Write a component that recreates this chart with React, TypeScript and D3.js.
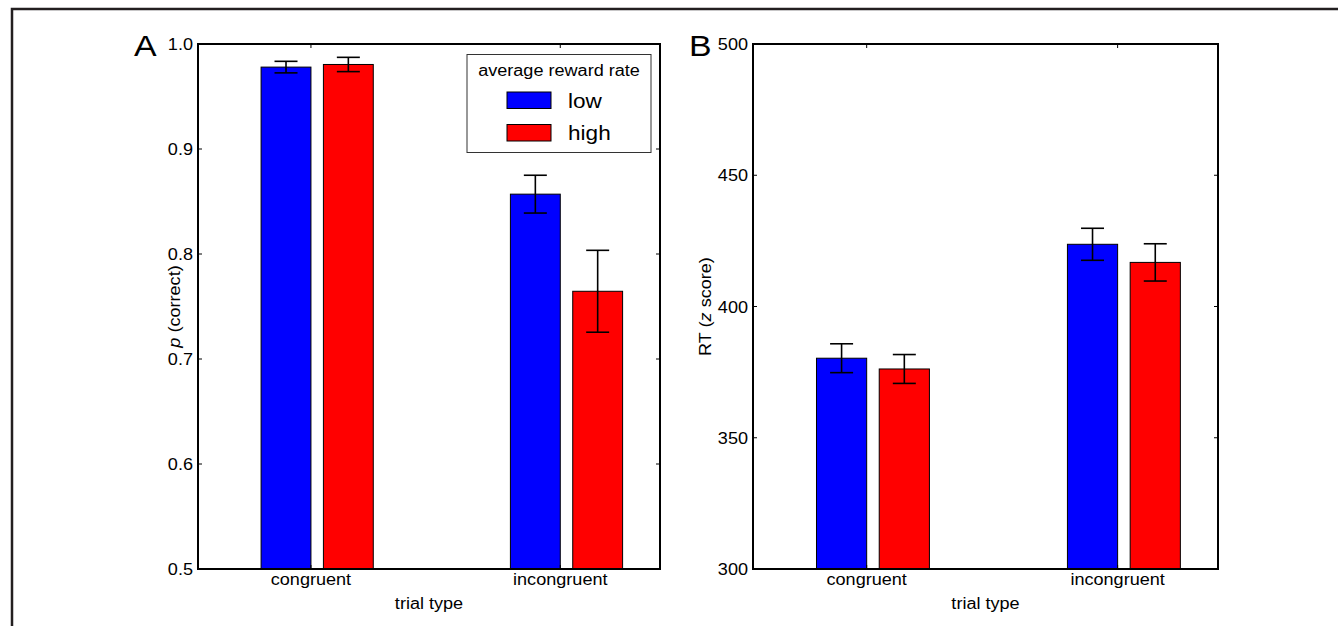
import React from 'react';
import * as d3 from 'd3';

const categories = ['congruent', 'incongruent'];
const series = ['low', 'high'];
const colors = ['#0000ff', '#ff0000'];

const accLow = [0.978, 0.857];
const accHigh = [0.9805, 0.7645];
const accLowErr = [0.0055, 0.018];
const accHighErr = [0.0068, 0.039];
const accTicks = [0.5, 0.6, 0.7, 0.8, 0.9, 1.0];

const rtLow = [380.3, 423.7];
const rtHigh = [376.2, 416.8];
const rtLowErr = [5.5, 6.1];
const rtHighErr = [5.5, 7.1];
const rtTicks = [300, 350, 400, 450, 500];

const FONT = '"Liberation Sans", Arial, sans-serif';
const SX = 1.13; // reference text is a bit wide

const Txt = ({ x, y, size = 16, anchor = 'start', rotate = 0, children }: any) => (
    <g transform={`translate(${x},${y}) rotate(${rotate}) scale(${SX},1)`}>
        <text x={0} y={0} fontSize={size} fontFamily={FONT} textAnchor={anchor} fill="#000"
            style={{ whiteSpace: 'pre' }}>
            {children}
        </text>
    </g>
);

const Panel = ({ left, right, top, bottom, domain, ticks, fmt, low, high, lowErr, highErr, letter, yLabel, yLabelX }: any) => {
    // x in category units: tick sits at the right edge of the blue bar
    const x = d3.scaleLinear().domain([-0.453, 1.4]).range([left, right]);
    const y = d3.scaleLinear().domain(domain).range([bottom, top]);
    const bw = 0.2;
    const gap = 0.05;
    const bars: any[] = [];
    categories.forEach((c, i) => {
        bars.push({ x0: i - bw, v: low[i], e: lowErr[i], color: colors[0] });
        bars.push({ x0: i + gap, v: high[i], e: highErr[i], color: colors[1] });
    });
    const cap = 11.5;

    return (
        <g>
            {bars.map((b, i) => {
                const x0 = x(b.x0);
                const x1 = x(b.x0 + bw);
                const cx = (x0 + x1) / 2;
                return (
                    <g key={i}>
                        <rect x={x0} y={y(b.v)} width={x1 - x0} height={bottom - y(b.v)}
                            fill={b.color} stroke="#000" strokeWidth={1} />
                        <line x1={cx} x2={cx} y1={y(b.v + b.e)} y2={y(b.v - b.e)} stroke="#000" strokeWidth={1.6} />
                        <line x1={cx - cap} x2={cx + cap} y1={y(b.v + b.e)} y2={y(b.v + b.e)} stroke="#000" strokeWidth={1.6} />
                        <line x1={cx - cap} x2={cx + cap} y1={y(b.v - b.e)} y2={y(b.v - b.e)} stroke="#000" strokeWidth={1.6} />
                    </g>
                );
            })}

            {ticks.map((t: number) => (
                <g key={t}>
                    <line x1={left} x2={left + 4} y1={y(t)} y2={y(t)} stroke="#000" strokeWidth={1} />
                    <line x1={right - 4} x2={right} y1={y(t)} y2={y(t)} stroke="#000" strokeWidth={1} />
                    <Txt x={left - 5} y={y(t) + 6} anchor="end">{fmt(t)}</Txt>
                </g>
            ))}
            {categories.map((c, i) => (
                <g key={c}>
                    <line x1={x(i)} x2={x(i)} y1={top} y2={top + 4} stroke="#000" strokeWidth={1} />
                    <line x1={x(i)} x2={x(i)} y1={bottom - 4} y2={bottom} stroke="#000" strokeWidth={1} />
                    <Txt x={x(i)} y={bottom + 16} anchor="middle">{c}</Txt>
                </g>
            ))}

            <rect x={left} y={top} width={right - left} height={bottom - top} fill="none" stroke="#000" strokeWidth={2} />

            <Txt x={(left + right) / 2} y={bottom + 40} anchor="middle">trial type</Txt>
            <Txt x={yLabelX} y={(top + bottom) / 2} anchor="middle" rotate={-90}>{yLabel}</Txt>
            <Txt x={left - 64} y={top + 12} size={30}>{letter}</Txt>
        </g>
    );
};

const App = () => {
    return (
        <svg width={1338} height={626} style={{ position: 'absolute', left: 0, top: 0, background: '#fff' }}>
            <rect x={0} y={0} width={1338} height={626} fill="#fff" />
            <path d="M12,626 V9 H1338" fill="none" stroke="#231f20" strokeWidth={2.5} />

            <Panel left={198} right={660} top={44} bottom={569}
                domain={[0.5, 1.0]} ticks={accTicks} fmt={(t: number) => t.toFixed(1)}
                low={accLow} high={accHigh} lowErr={accLowErr} highErr={accHighErr}
                letter="A" yLabelX={180}
                yLabel={[<tspan key="a" fontStyle="italic">p</tspan>, <tspan key="b">{' (correct)'}</tspan>]} />

            <Panel left={753} right={1218} top={44} bottom={569}
                domain={[300, 500]} ticks={rtTicks} fmt={(t: number) => String(t)}
                low={rtLow} high={rtHigh} lowErr={rtLowErr} highErr={rtHighErr}
                letter="B" yLabelX={711}
                yLabel={[<tspan key="a">{'RT ('}</tspan>, <tspan key="b" fontStyle="italic">z</tspan>, <tspan key="c">{' score)'}</tspan>]} />

            {/* legend */}
            <rect x={467} y={54.5} width={184} height={98} fill="#fff" stroke="#333" strokeWidth={1} />
            <Txt x={559} y={76} anchor="middle">average reward rate</Txt>
            {series.map((s, i) => (
                <g key={s}>
                    <rect x={507} y={92 + i * 32.5} width={44} height={16.5} fill={colors[i]} stroke="#000" strokeWidth={1} />
                    <Txt x={568} y={107.5 + i * 32.5} size={20}>{s}</Txt>
                </g>
            ))}
        </svg>
    );
};

export default App;
